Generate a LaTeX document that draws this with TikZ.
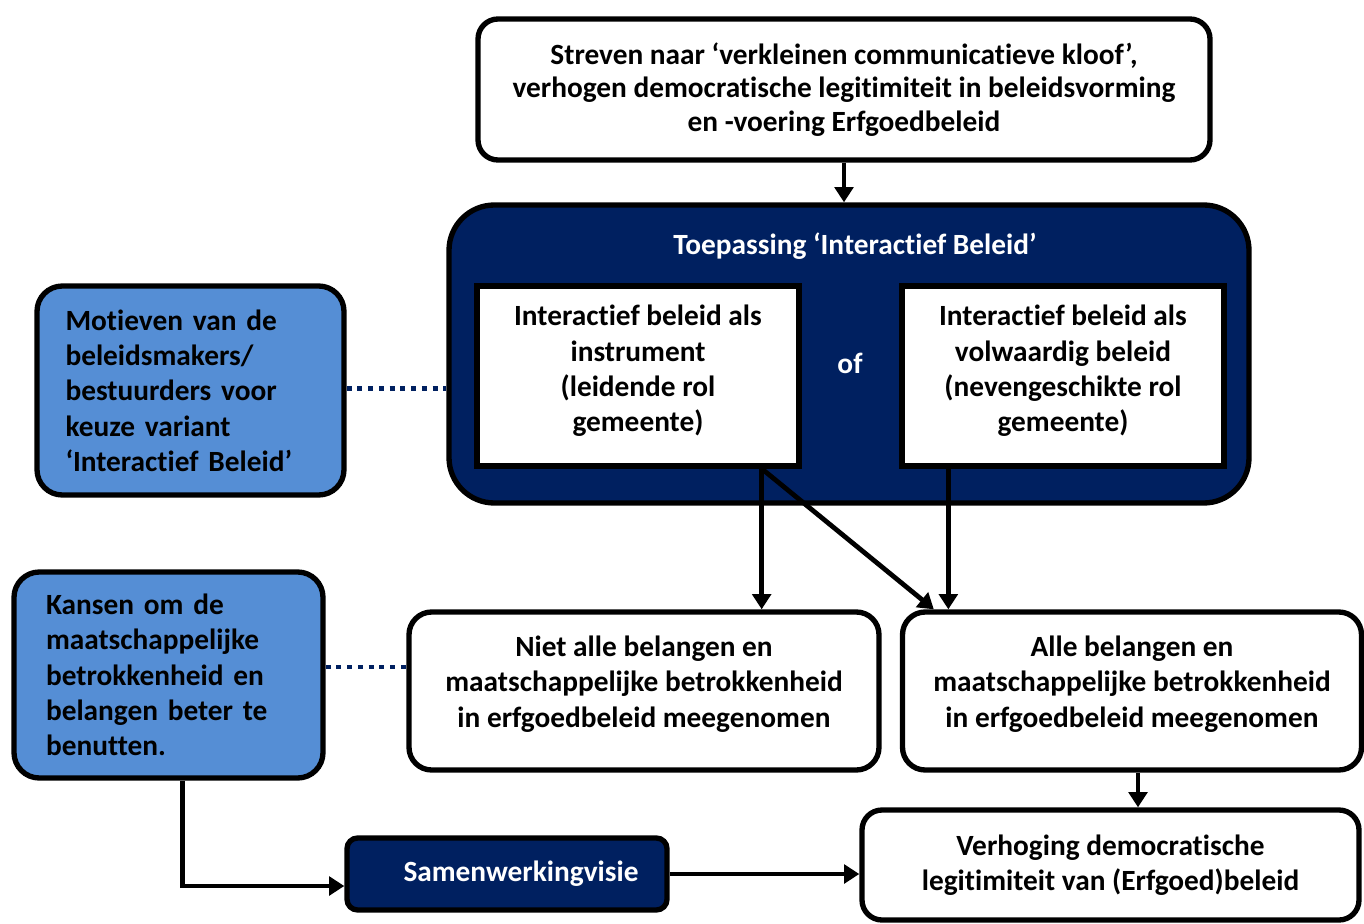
\documentclass[tikz,border=0pt]{standalone}
\usepackage{fontspec}
\setmainfont{Carlito}[Ligatures=NoCommon]
\usetikzlibrary{arrows.meta}
\definecolor{navy}{HTML}{002060}
\definecolor{skyblue}{HTML}{558ED5}
\begin{document}
\begin{tikzpicture}[x=0.75pt,y=-0.75pt,
  txt/.style={font=\bfseries\fontsize{22}{26.5}\selectfont},
  box/.style={txt, draw=black, line width=4pt, inner sep=0pt, align=center},
  whitebox/.style={box, fill=white},
  navybox/.style={box, fill=navy, text=white},
  bluebox/.style={box, fill=skyblue, align=left, rounded corners=19pt},
  conn/.style={line width=3.6pt, -{Triangle[width=14pt,length=11.5pt]}},
  link/.style={draw=navy, line width=3.6pt, dash pattern=on 3.75pt off 4.3pt},
]
\useasboundingbox (0,0) rectangle (1364,924);

% top goal
\node[whitebox, rounded corners=15pt, minimum width=732*0.75pt, minimum height=141*0.75pt]
  (top) at (844,89.5) {Streven naar ‘verkleinen communicatieve kloof’,\\[-1.5pt]
  verhogen democratische legitimiteit in beleidsvorming\\[-1.5pt] en -voering Erfgoedbeleid};

% application frame
\node[navybox, rounded corners=34pt, minimum width=800*0.75pt, minimum height=298*0.75pt]
  (big) at (849,354) {};
\node[txt, text=white] (title) at (855,246) {Toepassing ‘Interactief Beleid’};
\node[whitebox, minimum width=322*0.75pt, minimum height=180*0.75pt, text depth=11pt]
  (inL) at (638,376) {Interactief beleid als\\ instrument\\ (leidende rol\\ gemeente)};
\node[txt, text=white] (of) at (850,363) {of};
\node[whitebox, minimum width=322*0.75pt, minimum height=180*0.75pt, text depth=11pt]
  (inR) at (1063,376) {Interactief beleid als\\ volwaardig beleid\\ (nevengeschikte rol\\ gemeente)};

% motives and opportunities
\node[bluebox, minimum width=307*0.75pt, minimum height=209*0.75pt, text width=250*0.75pt]
  (blue1) at (190.5,390.5) {Motieven van de\\ beleidsmakers/\\ bestuurders voor\\ keuze variant\\ ‘Interactief Beleid’};
\node[bluebox, minimum width=309*0.75pt, minimum height=206*0.75pt, text width=245*0.75pt]
  (blue2) at (168.5,675) {Kansen om de\\ maatschappelijke\\ betrokkenheid en\\ belangen beter te\\ benutten.};

% outcomes
\node[whitebox, rounded corners=17pt, minimum width=470*0.75pt, minimum height=158*0.75pt, text depth=14pt]
  (niet) at (644,691) {Niet alle belangen en\\ maatschappelijke betrokkenheid\\ in erfgoedbeleid meegenomen};
\node[whitebox, rounded corners=17pt, minimum width=459*0.75pt, minimum height=158*0.75pt, text depth=14pt]
  (alle) at (1132,691) {Alle belangen en\\ maatschappelijke betrokkenheid\\ in erfgoedbeleid meegenomen};
\node[whitebox, rounded corners=15pt, minimum width=497*0.75pt, minimum height=110*0.75pt]
  (verh) at (1110.5,865) {Verhoging democratische\\ legitimiteit van (Erfgoed)beleid};
\node[navybox, rounded corners=8pt, minimum width=320*0.75pt, minimum height=72*0.75pt]
  (samen) at (507,874) {\hspace*{21pt}Samenwerkingvisie};

% connectors
\draw[conn] (top.south) -- (top.south |- big.north);
\draw[conn] ([xshift=-30pt]inL.south east) -- ([xshift=-30pt]inL.south east |- niet.north);
\draw[conn] ([xshift=-30pt]inL.south east) -- ([xshift=25.5pt]alle.north west);
\draw[conn] ([xshift=36.75pt]inR.south west) -- ([xshift=36.75pt]inR.south west |- alle.north);
\draw[conn] ([xshift=4.5pt]alle.south) -- ([xshift=4.5pt]alle.south |- verh.north);
\draw[conn] (samen.east) -- (samen.east -| verh.west);
\draw[conn] ([xshift=10.5pt]blue2.south) |- ([yshift=-9pt]samen.west);

% dotted relations
\draw[link] ([yshift=1.5pt]blue1.east) -- ([yshift=1.5pt]blue1.east -| big.west);
\draw[link] ([yshift=6pt]blue2.east) -- ([yshift=6pt]blue2.east -| niet.west);
\end{tikzpicture}
\end{document}
